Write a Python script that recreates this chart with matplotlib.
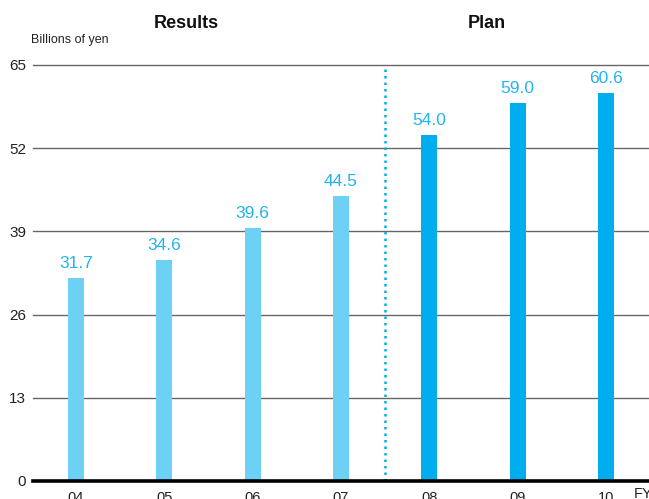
import numpy as np
import matplotlib.pyplot as plt

plt.rcParams['font.family'] = ['Liberation Sans', 'DejaVu Sans']

years = ['04', '05', '06', '07', '08', '09', '10']
values = [31.7, 34.6, 39.6, 44.5, 54.0, 59.0, 60.6]
n_results = 4
y_ticks = [0, 13, 26, 39, 52, 65]

light_blue = '#6dd1f6'
dark_blue = '#00aeef'
label_blue = '#22b4ee'

fig = plt.figure(figsize=(6.49, 4.99), dpi=100)
ax = fig.add_axes([33 / 649, 18 / 499, 616 / 649, 416 / 499])

x = np.arange(len(years))
colors = [light_blue] * n_results + [dark_blue] * (len(years) - n_results)
ax.bar(x, values, width=0.18, color=colors, zorder=3)

# value labels over each bar
for xi, v in zip(x, values):
    ax.text(xi, v + 1.1, f'{v:.1f}', ha='center', va='bottom',
            fontsize=12.5, color=label_blue, zorder=4)

ax.set_xlim(-0.487, 6.487)
ax.set_ylim(0, 65)

# horizontal gridlines
for t in y_ticks[1:]:
    ax.axhline(t, color='#666666', lw=1.0, zorder=1, clip_on=False)
ax.axhline(0, color='black', lw=2.6, zorder=5, clip_on=False)

# divider between results and plan
ax.plot([n_results - 0.5] * 2, [0, 64.6], color=dark_blue, lw=1.8,
        linestyle=(0, (1, 1.6)), zorder=2)

for s in ax.spines.values():
    s.set_visible(False)

ax.set_yticks(y_ticks)
ax.set_yticklabels([str(t) for t in y_ticks], fontsize=11, color='#222222')
ax.tick_params(axis='y', length=0, pad=5)
ax.set_xticks(x)
ax.set_xticklabels(years, fontsize=10.5, color='#222222')
ax.tick_params(axis='x', length=0, pad=7)

fig.text(643 / 649, 1 - 494 / 499, 'FY', ha='center', va='center',
         fontsize=10.5, color='#222222')
fig.text(31 / 649, 1 - 40 / 499, 'Billions of yen', ha='left', va='center',
         fontsize=9, color='#222222')
fig.text(186 / 649, 1 - 23 / 499, 'Results', ha='center', va='center',
         fontsize=13, fontweight='bold', color='#111111')
fig.text(487 / 649, 1 - 23 / 499, 'Plan', ha='center', va='center',
         fontsize=13, fontweight='bold', color='#111111')

fig.savefig('out.png', dpi=100)
